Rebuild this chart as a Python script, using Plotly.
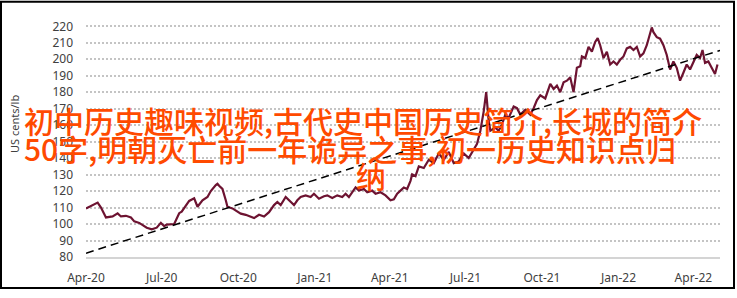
import plotly.graph_objects as go

# ---- data ----
dates = [
    "2020-04-01", "2020-04-07", "2020-04-15", "2020-04-19", "2020-04-23", "2020-04-25",
    "2020-05-03", "2020-05-09", "2020-05-13", "2020-05-19", "2020-05-25", "2020-05-29",
    "2020-06-04", "2020-06-07", "2020-06-13", "2020-06-19", "2020-06-25", "2020-06-30",
    "2020-07-04", "2020-07-07", "2020-07-16", "2020-07-22", "2020-07-25", "2020-08-03",
    "2020-08-09", "2020-08-13", "2020-08-19", "2020-08-25", "2020-08-29", "2020-09-04",
    "2020-09-06", "2020-09-08", "2020-09-12", "2020-09-16", "2020-09-18", "2020-09-24",
    "2020-09-30", "2020-10-04", "2020-10-10", "2020-10-20", "2020-10-26", "2020-11-01",
    "2020-11-07", "2020-11-13", "2020-11-17", "2020-11-21", "2020-11-27", "2020-12-01",
    "2020-12-07", "2020-12-11", "2020-12-15", "2020-12-21", "2020-12-27", "2020-12-31",
    "2021-01-06", "2021-01-12", "2021-01-16", "2021-01-22", "2021-01-28", "2021-02-03",
    "2021-02-07", "2021-02-11", "2021-02-17", "2021-02-19", "2021-02-23", "2021-03-01",
    "2021-03-05", "2021-03-11", "2021-03-15", "2021-03-21", "2021-03-27", "2021-04-02",
    "2021-04-06", "2021-04-10", "2021-04-14", "2021-04-18", "2021-04-22", "2021-04-26",
    "2021-04-28", "2021-05-02", "2021-05-06", "2021-05-12", "2021-05-18", "2021-05-24",
    "2021-05-30", "2021-06-05", "2021-06-11", "2021-06-17", "2021-06-23", "2021-06-29",
    "2021-07-05", "2021-07-11", "2021-07-15", "2021-07-19", "2021-07-23", "2021-07-26",
    "2021-07-29", "2021-07-31", "2021-08-06", "2021-08-10", "2021-08-14", "2021-08-18",
    "2021-08-22", "2021-08-28", "2021-09-01", "2021-09-05", "2021-09-11", "2021-09-17",
    "2021-09-21", "2021-09-25", "2021-09-29", "2021-10-05", "2021-10-11", "2021-10-15",
    "2021-10-19", "2021-10-23", "2021-10-27", "2021-10-31", "2021-11-04", "2021-11-08",
    "2021-11-12", "2021-11-16", "2021-11-18", "2021-11-22", "2021-11-26", "2021-11-30",
    "2021-12-04", "2021-12-07", "2021-12-10", "2021-12-14", "2021-12-18", "2021-12-22",
    "2021-12-26", "2021-12-30", "2022-01-03", "2022-01-07", "2022-01-11", "2022-01-15",
    "2022-01-19", "2022-01-23", "2022-01-27", "2022-01-31", "2022-02-04", "2022-02-10",
    "2022-02-12", "2022-02-16", "2022-02-20", "2022-02-24", "2022-02-28", "2022-03-04",
    "2022-03-08", "2022-03-12", "2022-03-16", "2022-03-20", "2022-03-24", "2022-03-28",
    "2022-04-01", "2022-04-05", "2022-04-09", "2022-04-12", "2022-04-15", "2022-04-19",
    "2022-04-23", "2022-04-27", "2022-04-30",
]
prices = [
    109.5, 111.0, 113.0, 110.0, 105.6, 104.0,
    104.6, 106.5, 104.6, 105.0, 104.0, 101.6,
    100.7, 99.7, 97.8, 96.8, 97.8, 100.7,
    98.7, 99.7, 100.0, 106.6, 107.5, 114.0,
    115.6, 110.5, 114.4, 116.4, 120.0, 123.6,
    124.4, 123.2, 121.3, 114.4, 110.5, 109.5,
    107.5, 106.3, 105.6, 103.6, 105.6, 104.6,
    107.2, 111.5, 113.4, 111.5, 116.4, 114.4,
    111.5, 114.4, 116.4, 117.4, 116.4, 118.4,
    115.4, 116.9, 117.4, 115.8, 117.4, 116.4,
    118.4, 116.4, 120.3, 122.2, 120.3, 121.3,
    119.3, 120.3, 118.4, 119.3, 117.4, 114.4,
    115.0, 118.4, 120.3, 122.2, 121.3, 126.2,
    130.1, 129.1, 135.0, 134.0, 139.0, 137.0,
    142.8, 139.0, 143.8, 137.0, 138.0, 142.8,
    140.0, 145.8, 148.7, 156.6, 168.4, 180.0,
    162.5, 156.6, 158.5, 156.6, 160.5, 166.4,
    164.4, 171.3, 170.3, 166.4, 169.3, 166.4,
    170.3, 175.2, 178.1, 176.2, 185.0, 182.0,
    184.0, 180.0, 186.0, 187.0, 189.0, 180.0,
    194.8, 195.8, 201.7, 200.7, 207.5, 204.6,
    210.5, 212.8, 208.5, 200.7, 204.6, 196.8,
    198.7, 196.8, 199.7, 201.7, 206.6, 207.5,
    205.6, 207.5, 201.7, 203.6, 208.5, 219.3,
    216.4, 213.4, 212.5, 208.5, 202.6, 193.8,
    198.7, 194.8, 187.0, 191.8, 196.8, 193.8,
    198.7, 202.6, 200.7, 205.6, 197.8, 198.7,
    194.8, 191.0, 196.8,
]
trend_dates = ["2020-04-01", "2022-05-03"]
trend_values = [82.3, 205.4]

tick_dates = ["2020-04-01", "2020-07-01", "2020-10-01", "2021-01-01", "2021-04-01",
              "2021-07-01", "2021-10-01", "2022-01-01", "2022-04-01"]
tick_labels = ["Apr-20", "Jul-20", "Oct-20", "Jan-21", "Apr-21",
               "Jul-21", "Oct-21", "Jan-22", "Apr-22"]
y_ticks = [80, 90, 100, 110, 120, 130, 140, 150, 160, 170, 180, 190, 200, 210, 220]

y_title = "US cents/lb"
overlay_lines = ["初中历史趣味视频,古代史中国历史简介,长城的简介",
                 "50字,明朝灭亡前一年诡异之事,初一历史知识点归",
                 "纳"]

# ---- layout geometry (pixels) ----
W, H = 737, 298
L, R, T, B = 86, 17, 23, 34
PW, PH = W - L - R, H - T - B
BOTTOM = H - B


def px_x(p):
    return (p - L) / PW


def px_y(p):
    return (BOTTOM - p) / PH


fig = go.Figure()
fig.add_trace(go.Scatter(x=dates, y=prices, mode="lines",
                         line=dict(color="#6d1331", width=2.2), hoverinfo="skip"))
fig.add_trace(go.Scatter(x=trend_dates, y=trend_values, mode="lines",
                         line=dict(color="#000000", width=1.5, dash="8px,5px"),
                         hoverinfo="skip"))

tick_font = dict(family="Noto Sans", size=12, color="#404040")

fig.update_layout(
    width=W, height=H,
    margin=dict(l=L, r=R, t=T, b=B, pad=0),
    paper_bgcolor="white", plot_bgcolor="white",
    showlegend=False,
    xaxis=dict(
        type="date", range=["2020-04-01", "2022-05-03"],
        tickmode="array", tickvals=tick_dates, ticktext=tick_labels,
        showgrid=False, zeroline=False,
        showline=True, linecolor="#d4d4d4", linewidth=1.5,
        ticks="", ticklabelstandoff=9, tickfont=tick_font,
    ),
    yaxis=dict(
        range=[80, 222],
        tickmode="array", tickvals=y_ticks,
        showgrid=True, gridcolor="#c4c4c4", gridwidth=1.5, griddash="2px,2px",
        zeroline=False, showline=False,
        ticks="", ticklabelstandoff=12, tickfont=tick_font,
    ),
)

annotations = [
    dict(text=y_title, x=px_x(15), y=px_y(127), xref="paper", yref="paper",
         textangle=-90, showarrow=False, xanchor="center", yanchor="middle",
         font=dict(family="Noto Sans", size=11, color="#404040")),
]
overlay_pos = [(22, 123), (22, 152), (354, 180)]
for text, (ox, oy) in zip(overlay_lines, overlay_pos):
    annotations.append(dict(
        text=text, x=px_x(ox), y=px_y(oy), xref="paper", yref="paper",
        showarrow=False, xanchor="left", yanchor="middle",
        font=dict(family="Noto Sans CJK SC", size=30, color="#ff4a00", weight=500)))
fig.update_layout(annotations=annotations)

fig.add_shape(type="rect", xref="paper", yref="paper",
              x0=px_x(1), x1=px_x(734), y0=px_y(296), y1=px_y(1),
              line=dict(color="black", width=2), layer="above")

fig.write_html("out.html")
